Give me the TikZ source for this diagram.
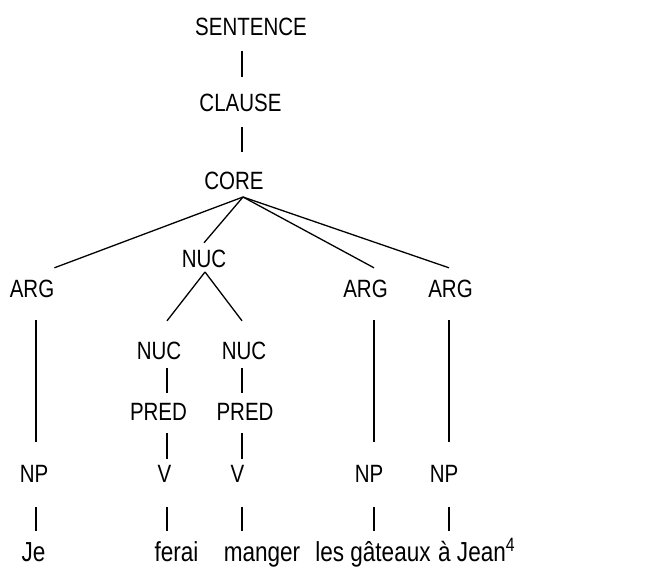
\documentclass[tikz,border=0pt]{standalone}
\usepackage{fontspec}
\setmainfont[FakeStretch=0.82]{Liberation Sans}

\begin{document}
\begin{tikzpicture}[
  x=1pt, y=-1pt,
  cat/.style={anchor=base, inner sep=0pt, text height=18pt, text depth=0pt,
    font=\fontsize{25}{30}\selectfont},
  word/.style={anchor=base, inner sep=0pt, text height=20pt, text depth=0pt,
    font=\fontsize{27.5}{33}\selectfont},
  branch/.style={draw=black, line width=1.3pt}
]
  \useasboundingbox (0,0) rectangle (668,568);

  % columns of the vertical lines
  \coordinate (colA) at (36,0);
  \coordinate (colB) at (167,0);
  \coordinate (colC) at (242,0);
  \coordinate (colD) at (374,0);
  \coordinate (colE) at (449,0);

  \node[cat] (sentence) at (251,35) {SENTENCE};
  \node[cat] (clause) at (240.5,111) {CLAUSE};
  \node[cat] (core) at (234,189) {CORE};

  \node[cat] (nuc) at (204,267) {NUC};
  \node[cat] (arg1) at (32,297) {ARG};
  \node[cat] (arg3) at (365.5,297) {ARG};
  \node[cat] (arg4) at (450.5,297) {ARG};

  \node[cat] (nucL) at (159,359) {NUC};
  \node[cat] (nucR) at (244,359) {NUC};
  \node[cat] (predL) at (158.5,420) {PRED};
  \node[cat] (predR) at (245,420) {PRED};

  \node[cat] (np1) at (34,482) {NP};
  \node[cat] (vL) at (164.5,482) {V};
  \node[cat] (vR) at (237.5,482) {V};
  \node[cat] (np3) at (369,482) {NP};
  \node[cat] (np4) at (444,482) {NP};

  \node[word] (je) at (33.5,561) {Je};
  \node[word] (ferai) at (176.5,561) {ferai};
  \node[word] (manger) at (262,561) {manger};
  \node[word] (gateaux) at (373,561) {les gâteaux};
  \node[word, anchor=base west] (jean) at (438,561) {à Jean\textsuperscript{4}};

  \draw[branch, shorten <=16pt, shorten >=16pt] (sentence.south -| colC) -- (clause.north -| colC);
  \draw[branch, shorten <=16pt, shorten >=19pt] (clause.south -| colC) -- (core.north -| colC);

  \coordinate (coreroot) at (243,197);
  \draw[branch] (coreroot) -- ([yshift=11pt]arg1.north east);
  \draw[branch] (coreroot) -- ([yshift=6pt]nuc.north);
  \draw[branch] (coreroot) -- ([yshift=11pt]arg3.north -| colD);
  \draw[branch] (coreroot) -- ([yshift=11pt]arg4.north -| colE);

  \coordinate (nucroot) at (205,272);
  \draw[branch] (nucroot) -- ([yshift=20pt]nucL.north -| colB);
  \draw[branch] (nucroot) -- ([yshift=20pt]nucR.north -| colC);

  \draw[branch, shorten <=23pt, shorten >=22pt] (arg1.south -| colA) -- (np1.north -| colA);
  \draw[branch, shorten <=23pt, shorten >=22pt] (arg3.south -| colD) -- (np3.north -| colD);
  \draw[branch, shorten <=23pt, shorten >=22pt] (arg4.south -| colE) -- (np4.north -| colE);

  \draw[branch, shorten <=9pt, shorten >=9pt] (nucL.south -| colB) -- (predL.north -| colB);
  \draw[branch, shorten <=9pt, shorten >=9pt] (nucR.south -| colC) -- (predR.north -| colC);
  \draw[branch, shorten <=13pt, shorten >=5pt] (predL.south -| colB) -- (vL.north -| colB);
  \draw[branch, shorten <=13pt, shorten >=5pt] (predR.south -| colC) -- (vR.north -| colC);

  \draw[branch, shorten <=25pt, shorten >=10pt] (np1.south -| colA) -- (je.north -| colA);
  \draw[branch, shorten <=25pt, shorten >=10pt] (vL.south -| colB) -- (ferai.north -| colB);
  \draw[branch, shorten <=25pt, shorten >=10pt] (vR.south -| colC) -- (manger.north -| colC);
  \draw[branch, shorten <=25pt, shorten >=10pt] (np3.south -| colD) -- (gateaux.north -| colD);
  \draw[branch, shorten <=25pt, shorten >=10pt] (np4.south -| colE) -- (jean.north -| colE);
\end{tikzpicture}
\end{document}
